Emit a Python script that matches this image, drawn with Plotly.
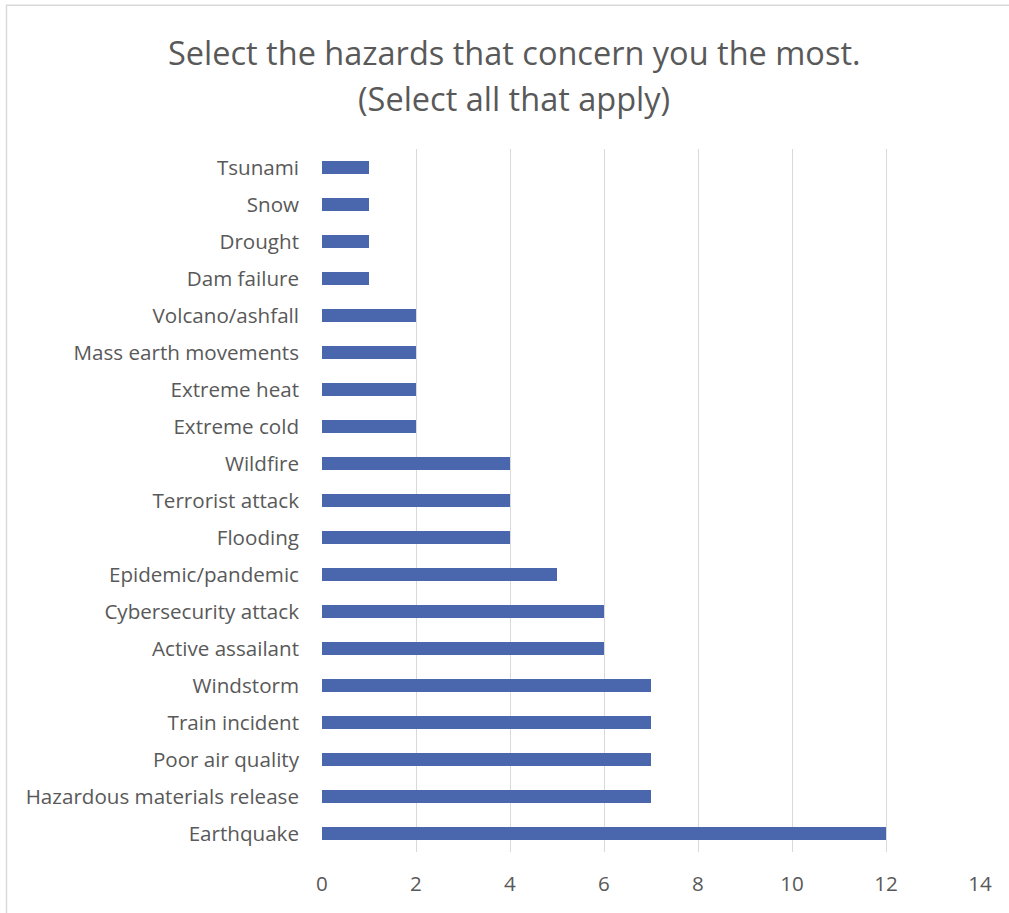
import plotly.graph_objects as go

# Hazards listed bottom-to-top as drawn on the category axis
hazards = [
    "Earthquake", "Hazardous materials release", "Poor air quality",
    "Train incident", "Windstorm", "Active assailant", "Cybersecurity attack",
    "Epidemic/pandemic", "Flooding", "Terrorist attack", "Wildfire",
    "Extreme cold", "Extreme heat", "Mass earth movements", "Volcano/ashfall",
    "Dam failure", "Drought", "Snow", "Tsunami",
]
responses = [12, 7, 7, 7, 7, 6, 6, 5, 4, 4, 4, 2, 2, 2, 2, 1, 1, 1, 1]
x_ticks = [0, 2, 4, 6, 8, 10, 12, 14]
title_lines = ["Select the hazards that concern you the most.", "(Select all that apply)"]

TEXT = "#595959"
GRID = "#D9D9D9"
FONT = "'Open Sans', sans-serif"

fig = go.Figure(
    go.Bar(
        x=responses,
        y=hazards,
        orientation="h",
        marker=dict(color="#4A67AD", line=dict(width=0)),
        hoverinfo="x+y",
    )
)

W, H = 1009, 913
ml, mr, mt, mb = 322, 29, 148.5, 60.5
pw, ph = W - ml - mr, H - mt - mb
px_to_x = lambda p: (p - ml) / pw
px_to_y = lambda p: (H - mb - p) / ph

fig.update_layout(
    width=W,
    height=H,
    margin=dict(l=ml, r=mr, t=mt, b=mb),
    paper_bgcolor="white",
    plot_bgcolor="white",
    bargap=0.645,
    showlegend=False,
    font=dict(family=FONT, color=TEXT, size=20.6),
    xaxis=dict(
        range=[0, 14],
        tickvals=x_ticks,
        showgrid=True,
        gridcolor=GRID,
        gridwidth=1.3,
        zeroline=False,
        showline=False,
        ticks="",
        ticklabelstandoff=17,
        tickfont=dict(size=20.6, color=TEXT),
    ),
    yaxis=dict(
        type="category",
        categoryorder="array",
        categoryarray=hazards,
        showgrid=False,
        zeroline=False,
        showline=False,
        ticks="",
        ticklabelstandoff=22,
        tickfont=dict(size=20.6, color=TEXT),
    ),
)

# Two-line chart title, centred on the whole chart
for line, cy in zip(title_lines, [52, 98]):
    fig.add_annotation(
        text=line,
        xref="paper", yref="paper",
        x=px_to_x(514), y=px_to_y(cy),
        xanchor="center", yanchor="middle",
        showarrow=False,
        font=dict(family=FONT, size=32.5, color=TEXT),
    )

# Light chart frame around the whole figure
fig.add_shape(
    type="rect",
    xref="paper", yref="paper",
    x0=px_to_x(6.5), x1=px_to_x(W + 20),
    y0=px_to_y(H + 20), y1=px_to_y(4.5),
    line=dict(color=GRID, width=1.5),
    fillcolor="rgba(0,0,0,0)",
    layer="below",
)

fig.write_html("out.html")
